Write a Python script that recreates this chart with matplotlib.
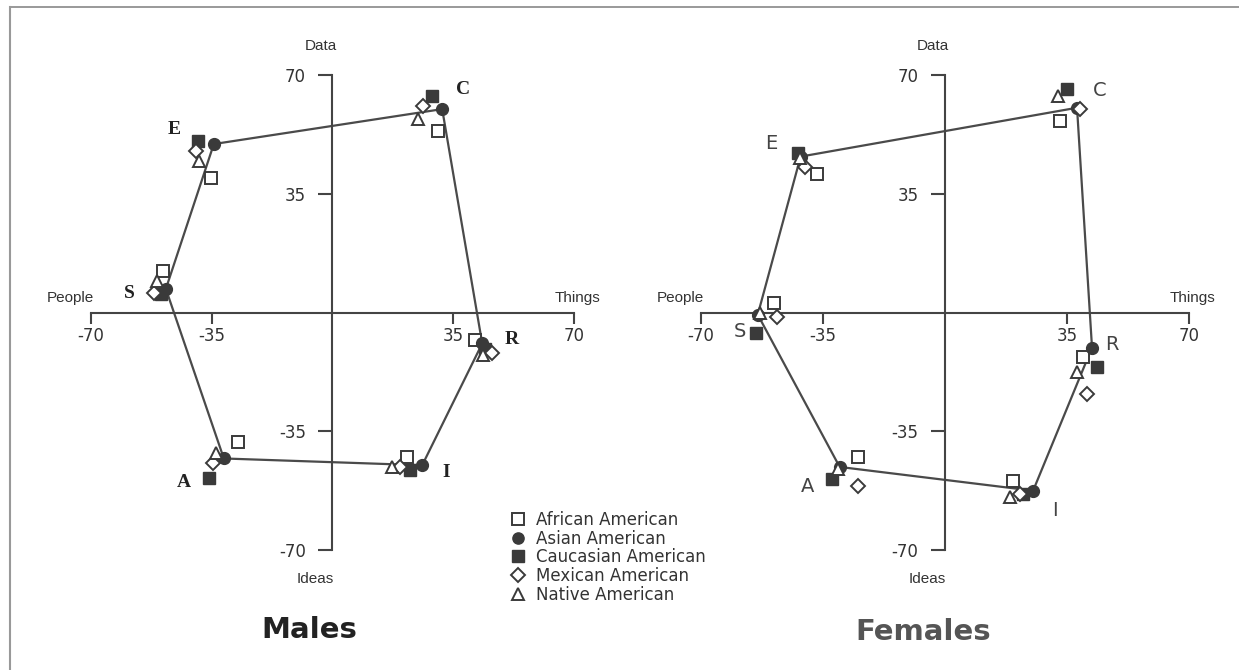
import numpy as np
import matplotlib
matplotlib.use("Agg")
from matplotlib import pyplot as plt
from matplotlib.lines import Line2D

# RIASEC order: R, I, A, S, E, C  (x = Things/People, y = Data/Ideas)
types = ["R", "I", "A", "S", "E", "C"]
groups = ["African American", "Asian American", "Caucasian American",
          "Mexican American", "Native American"]

# Males
m_african_x = [41.3, 21.7, -27.5, -49.0, -35.3, 30.6]
m_african_y = [-8.2, -42.6, -38.2, 12.4, 39.7, 53.5]
m_asian_x = [43.4, 26.0, -31.5, -48.3, -34.4, 31.8]
m_asian_y = [-9.1, -45.0, -43.0, 7.0, 49.7, 60.0]
m_cauc_x = [44.2, 22.5, -35.8, -49.7, -39.0, 28.9]
m_cauc_y = [-10.6, -46.5, -48.8, 5.6, 50.6, 63.8]
m_mex_x = [46.2, 19.7, -34.7, -51.7, -39.6, 26.3]
m_mex_y = [-11.8, -45.6, -44.4, 5.9, 47.6, 60.9]
m_native_x = [43.6, 17.3, -33.8, -51.0, -38.7, 24.9]
m_native_y = [-12.6, -45.6, -41.5, 9.4, 44.7, 57.0]

# Females
f_african_x = [39.7, 19.5, -25.0, -49.1, -36.8, 33.0]
f_african_y = [-13.2, -49.6, -42.5, 2.9, 41.0, 56.6]
f_asian_x = [42.2, 25.3, -30.2, -53.7, -41.4, 37.9]
f_asian_y = [-10.3, -52.5, -45.5, -0.6, 46.0, 60.4]
f_cauc_x = [43.7, 22.4, -32.5, -54.3, -42.2, 35.0]
f_cauc_y = [-16.1, -53.4, -49.0, -5.9, 47.0, 66.0]
f_mex_x = [40.8, 21.5, -25.0, -48.3, -40.2, 38.8]
f_mex_y = [-24.0, -53.5, -51.0, -1.2, 42.8, 60.0]
f_native_x = [37.9, 18.7, -30.8, -53.0, -41.6, 32.5]
f_native_y = [-17.6, -54.5, -46.2, 0.0, 45.5, 64.0]

# letter label positions
m_lab_x = [52, 33, -43, -59, -46, 37.9]
m_lab_y = [-8, -47, -50, 5.6, 54, 65.9]
f_lab_x = [48, 31.6, -39.4, -58.9, -49.7, 44.5]
f_lab_y = [-9.4, -58.4, -51.3, -5.6, 50, 65.4]

ticks = [-70, -35, 35, 70]

dark = "#3a3a3a"
styles = [
    dict(marker="s", mfc="white", mec=dark, ms=8.5, mew=1.4),
    dict(marker="o", mfc=dark, mec=dark, ms=8.5, mew=1.0),
    dict(marker="s", mfc=dark, mec=dark, ms=8.5, mew=1.0),
    dict(marker="D", mfc="white", mec=dark, ms=7.5, mew=1.4),
    dict(marker="^", mfc="white", mec=dark, ms=9, mew=1.4),
]


def panel(ax, xs, ys, lab_x, lab_y, lab_font, lab_color):
    ax.set_xlim(-80, 80)
    ax.set_ylim(-80, 80)
    for s in ["top", "right"]:
        ax.spines[s].set_visible(False)
    for s in ["left", "bottom"]:
        ax.spines[s].set_position("zero")
        ax.spines[s].set_bounds(-70, 70)
        ax.spines[s].set_linewidth(1.5)
        ax.spines[s].set_color("#444444")
    ax.set_xticks(ticks)
    ax.set_yticks(ticks)
    ax.set_xticklabels([str(t) for t in ticks])
    ax.set_yticklabels([str(t) for t in ticks])
    ax.tick_params(axis="x", direction="out", length=8, width=1.5,
                   color="#444444", pad=2, labelsize=12, labelcolor="#333333")
    ax.tick_params(axis="y", direction="out", length=10, width=1.5,
                   color="#444444", pad=9, labelsize=12, labelcolor="#333333")
    ax.patch.set_alpha(0)

    # profile polygon through the Asian American points
    px = list(xs[1]) + [xs[1][0]]
    py = list(ys[1]) + [ys[1][0]]
    ax.plot(px, py, color="#4a4a4a", lw=1.6, zorder=2)

    for i in range(len(groups)):
        ax.plot(xs[i], ys[i], ls="none", zorder=3, **styles[i])

    for t, lx, ly in zip(types, lab_x, lab_y):
        ax.text(lx, ly, t, ha="center", va="center", color=lab_color,
                **lab_font)

    axfont = dict(family="Liberation Sans", fontsize=11, color="#333333")
    ax.text(-3.5, 78.5, "Data", ha="center", va="center", **axfont)
    ax.text(-5, -78.5, "Ideas", ha="center", va="center", **axfont)
    ax.text(-76, 4.2, "People", ha="center", va="center", **axfont)
    ax.text(71, 4.2, "Things", ha="center", va="center", **axfont)


fig = plt.figure(figsize=(12.39, 6.70), dpi=100)

ax1 = fig.add_axes([0.0456, 0.1284, 0.4455, 0.810])
ax2 = fig.add_axes([0.5376, 0.1284, 0.4501, 0.810])

panel(ax1,
      [m_african_x, m_asian_x, m_cauc_x, m_mex_x, m_native_x],
      [m_african_y, m_asian_y, m_cauc_y, m_mex_y, m_native_y],
      m_lab_x, m_lab_y,
      dict(family="Liberation Serif", fontweight="bold", fontsize=14), "#222222")
panel(ax2,
      [f_african_x, f_asian_x, f_cauc_x, f_mex_x, f_native_x],
      [f_african_y, f_asian_y, f_cauc_y, f_mex_y, f_native_y],
      f_lab_x, f_lab_y,
      dict(family="DejaVu Sans", fontsize=14), "#444444")

fig.text(0.25, 0.06, "Males", ha="center", va="center", fontsize=21,
         fontweight="bold", color="#222222")
fig.text(0.745, 0.057, "Females", ha="center", va="center", fontsize=21,
         fontweight="bold", color="#555555")

handles = [Line2D([], [], ls="none", **dict(st, ms=st["ms"] * 0.95))
           for st in styles]
fig.legend(handles, groups, loc="upper left",
           bbox_to_anchor=(0.407, 0.25), frameon=False,
           prop=dict(family="DejaVu Sans", size=12),
           labelspacing=0.04, handlelength=0.6, handletextpad=0.8,
           borderpad=0, labelcolor="#333333")

# page frame (top and left edges of the scanned box)
fig.add_artist(Line2D([0.008, 1.0], [0.99, 0.99], color="#888888", lw=1.2))
fig.add_artist(Line2D([0.008, 0.008], [0.0, 0.99], color="#999999", lw=1.5))

fig.savefig("out.png", dpi=100, facecolor="white")
